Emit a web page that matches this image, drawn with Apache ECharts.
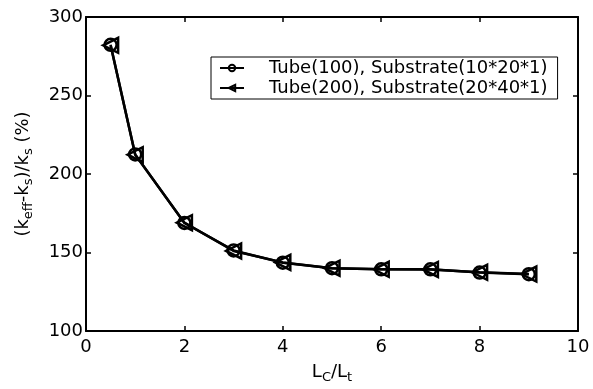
<!DOCTYPE html>
<html><head><meta charset="utf-8">
<script src="https://cdn.jsdelivr.net/npm/echarts@6/dist/echarts.min.js"></script>
<style>html,body{margin:0;padding:0;background:#fff}#c{width:593px;height:389px}</style>
</head><body><div id="c"></div>
<script>
const xValues = [0.5, 1, 2, 3, 4, 5, 6, 7, 8, 9];
const tube100 = [282.3, 212.5, 168.8, 151.3, 143.5, 140.0, 139.3, 139.3, 137.2, 136.2];
const tube200 = [282.0, 212.3, 169.0, 151.0, 143.7, 140.0, 139.3, 139.2, 137.4, 136.3];
const seriesNames = ['Tube(100), Substrate(10*20*1)', 'Tube(200), Substrate(20*40*1)'];
const xAxisRange = {min: 0, max: 10, interval: 2};
const yAxisRange = {min: 100, max: 300, interval: 50};

const font = 'DejaVu Sans, sans-serif';
const chart = echarts.init(document.getElementById('c'));
const axisCommon = {
  axisLine: {show: true, onZero: false, lineStyle: {color: '#000', width: 2}},
  axisTick: {show: true, inside: true, length: 5, lineStyle: {color: '#000', width: 1.5}},
  splitLine: {show: false}
};
const subStyle = {fontFamily: font, fontSize: 13, color: '#000', verticalAlign: 'bottom', padding: [10, 0, 0, 0]};
chart.setOption({
  animation: false,
  backgroundColor: '#fff',
  grid: {left: 86, right: 15, top: 17, bottom: 55},
  legend: {
    orient: 'vertical', left: 211, top: 57,
    borderColor: '#000', borderWidth: 1, padding: [2, 10, 2, 8],
    itemWidth: 24, itemHeight: 8, itemGap: 2,
    textStyle: {fontFamily: font, fontSize: 18, color: '#000', padding: [0, 0, 0, 20]},
    data: seriesNames
  },
  xAxis: [
    Object.assign({type: 'value', position: 'bottom'}, xAxisRange, axisCommon, {
      axisLabel: {color: '#000', fontFamily: font, fontSize: 18, margin: 7},
      name: 'L{sub|C}/L{sub|t}', nameLocation: 'middle', nameGap: 30,
      nameTextStyle: {color: '#000', fontFamily: font, fontSize: 18, rich: {sub: subStyle}}
    }),
    Object.assign({type: 'value', position: 'top'}, xAxisRange, axisCommon, {axisLabel: {show: false}})
  ],
  yAxis: [
    Object.assign({type: 'value', position: 'left'}, yAxisRange, axisCommon, {
      axisLabel: {color: '#000', fontFamily: font, fontSize: 18, margin: 3},
      name: '(k{sub|eff}-k{sub|s})/k{sub|s} (%)', nameLocation: 'middle', nameGap: 51,
      nameTextStyle: {color: '#000', fontFamily: font, fontSize: 18, rich: {sub: subStyle}}
    }),
    Object.assign({type: 'value', position: 'right'}, yAxisRange, axisCommon, {axisLabel: {show: false}})
  ],
  series: [
    {
      name: seriesNames[0], type: 'line',
      data: xValues.map((x, i) => [x, tube100[i]]),
      symbol: 'circle', symbolSize: 12,
      lineStyle: {color: '#000', width: 2.5},
      itemStyle: {color: 'transparent', borderColor: '#000', borderWidth: 2.5},
      z: 2
    },
    {
      name: seriesNames[1], type: 'line',
      data: xValues.map((x, i) => [x, tube200[i]]),
      symbol: 'triangle', symbolSize: 15, symbolRotate: 90,
      lineStyle: {color: '#000', width: 2.5},
      itemStyle: {color: 'transparent', borderColor: '#000', borderWidth: 2.5},
      z: 3
    }
  ]
});
</script></body></html>
